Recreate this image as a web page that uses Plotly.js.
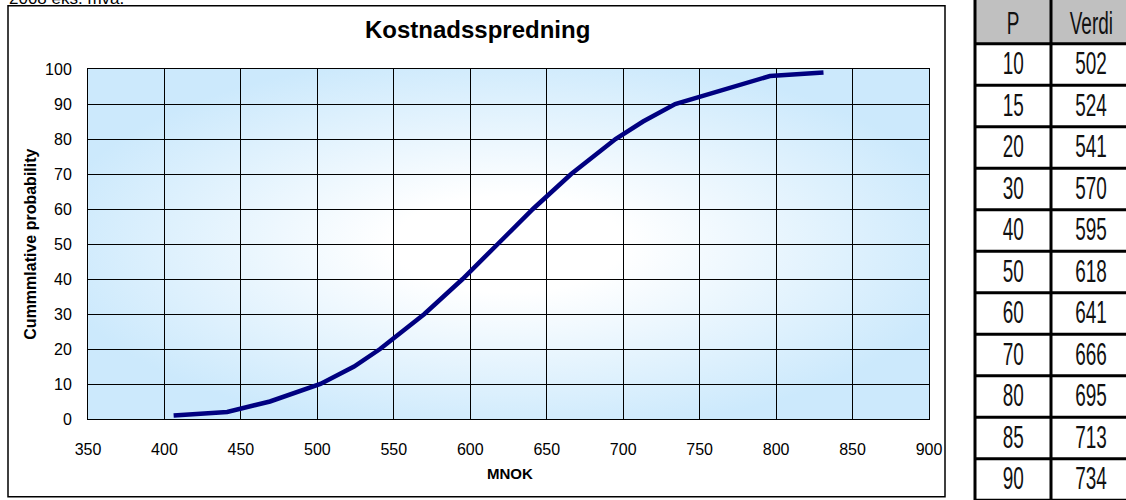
<!DOCTYPE html>
<html>
<head>
<meta charset="utf-8">
<script src="https://cdn.plot.ly/plotly-3.0.1.min.js"></script>
<style>html,body{margin:0;padding:0;background:#fff;}#chart{width:1126px;height:500px;}</style>
</head>
<body>
<div id="chart"></div>
<script>
// ---- data ----
const curveMNOK = [406, 441, 469, 502, 524, 541, 570, 595, 618, 641, 666, 695, 713, 734, 796, 831];
const curveProb = [1, 2, 5, 10, 15, 20, 30, 40, 50, 60, 70, 80, 85, 90, 98, 99];
const tableHeader = ['P', 'Verdi'];
const tableP = [10, 15, 20, 30, 40, 50, 60, 70, 80, 85, 90];
const tableVerdi = [502, 524, 541, 570, 595, 618, 641, 666, 695, 713, 734];
const xTickVals = [350, 400, 450, 500, 550, 600, 650, 700, 750, 800, 850, 900];
const yTickVals = [0, 10, 20, 30, 40, 50, 60, 70, 80, 90, 100];

// ---- layout geometry (pixels) ----
const W = 1126, H = 500;
const PL = 88, PR = 929, PT = 69.3, PB = 419.3;
const pw = PR - PL, ph = PB - PT;
const X = px => (px - PL) / pw;
const Y = py => (PB - py) / ph;

// gradient background
const cv = document.createElement('canvas');
cv.width = Math.round(pw); cv.height = Math.round(ph);
const g = cv.getContext('2d');
const blue = 'rgb(204,233,252)';
g.fillStyle = blue; g.fillRect(0, 0, cv.width, cv.height);
g.save();
g.translate(cv.width * 0.5, cv.height * 0.5);
g.scale(cv.width / cv.height, 1);
const rg = g.createRadialGradient(0, 0, 0, 0, 0, cv.height * 0.55);
rg.addColorStop(0, '#ffffff');
rg.addColorStop(0.25, '#ffffff');
rg.addColorStop(1, blue);
g.fillStyle = rg;
g.fillRect(-cv.height, -cv.height, cv.height * 2, cv.height * 2);
g.restore();
const bgURL = cv.toDataURL('image/png');

const shapes = [];
const annotations = [];
const FAM = 'Liberation Sans, Arial, sans-serif';

// chart outer border
shapes.push({type: 'rect', xref: 'paper', yref: 'paper', x0: X(8), x1: X(945), y0: Y(6), y1: Y(497),
  line: {color: '#000', width: 1.5}, fillcolor: 'rgba(0,0,0,0)', layer: 'below'});

// top-left clipped note
annotations.push({xref: 'paper', yref: 'paper', x: X(7), y: Y(-1), xanchor: 'left', yanchor: 'middle',
  text: '2008 eks. mva.', showarrow: false, font: {family: FAM, size: 17, color: '#000'}});

// title
annotations.push({xref: 'paper', yref: 'paper', x: X(477), y: Y(30), xanchor: 'center', yanchor: 'middle',
  text: '<b>Kostnadsspredning</b>', showarrow: false, font: {family: FAM, size: 24, color: '#000'}});

// axis titles
annotations.push({xref: 'paper', yref: 'paper', x: X(510), y: Y(474), xanchor: 'center', yanchor: 'middle',
  text: '<b>MNOK</b>', showarrow: false, font: {family: FAM, size: 15, color: '#000'}});
annotations.push({xref: 'paper', yref: 'paper', x: X(31), y: Y(245), xanchor: 'center', yanchor: 'middle', textangle: -90,
  text: '<b>Cummmlative probability</b>', showarrow: false, font: {family: FAM, size: 16, color: '#000'}});

// ---- table ----
const TL = 975, TM = 1051, TR = 1132, TT = -2, HB = 44, RH = 41.5;
shapes.push({type: 'rect', xref: 'paper', yref: 'paper', x0: X(TL), x1: X(TR), y0: Y(TT), y1: Y(HB),
  line: {width: 0}, fillcolor: '#c0c0c0'});
for (let k = 0; k <= tableP.length; k++) {
  const yy = HB + k * RH;
  shapes.push({type: 'line', xref: 'paper', yref: 'paper', x0: X(TL), x1: X(TR), y0: Y(yy), y1: Y(yy),
    line: {color: '#000', width: 3}});
}
[TL, TM].forEach(xx => shapes.push({type: 'line', xref: 'paper', yref: 'paper', x0: X(xx), x1: X(xx), y0: Y(TT), y1: Y(H + 5),
  line: {color: '#000', width: 3}}));

const tFont = {family: FAM, size: 24, color: '#111'};
const colC = [1013, 1091];
const tableIdx = [];
function addCell(text, xc, yc) {
  tableIdx.push(annotations.length);
  annotations.push({xref: 'paper', yref: 'paper', x: X(xc), y: Y(yc), xanchor: 'center', yanchor: 'middle',
    text: text, showarrow: false, font: tFont});
}
tableHeader.forEach((t, i) => addCell(t, colC[i], 23));
tableP.forEach((p, k) => {
  const yc = HB + k * RH + RH / 2 - 1.5;
  addCell(String(p), colC[0], yc);
  addCell(String(tableVerdi[k]), colC[1], yc);
});

const trace = {
  x: curveMNOK, y: curveProb, type: 'scatter', mode: 'lines',
  line: {color: '#000080', width: 4.5}, hoverinfo: 'skip'
};

const axisFont = {family: FAM, size: 16, color: '#000'};
const layout = {
  width: W, height: H,
  margin: {l: PL, r: W - PR, t: PT, b: H - PB, pad: 0},
  paper_bgcolor: '#ffffff', plot_bgcolor: 'rgba(0,0,0,0)',
  showlegend: false,
  xaxis: {range: [350, 900], tickvals: xTickVals, ticktext: xTickVals.map(String), showgrid: true, gridcolor: '#000', gridwidth: 1,
    zeroline: false, showline: true, linecolor: '#000', linewidth: 1, mirror: true, ticks: '', tickfont: axisFont,
    ticklabelstandoff: 16, fixedrange: true},
  yaxis: {range: [0, 100], tickvals: yTickVals, ticktext: yTickVals.map(String), showgrid: true, gridcolor: '#000', gridwidth: 1,
    zeroline: false, showline: true, linecolor: '#000', linewidth: 1, mirror: true, ticks: '', tickfont: axisFont,
    ticklabelstandoff: 12, fixedrange: true},
  images: [{source: bgURL, xref: 'paper', yref: 'paper', x: 0, y: 1, sizex: 1, sizey: 1, sizing: 'stretch',
    xanchor: 'left', yanchor: 'top', layer: 'below'}],
  shapes: shapes,
  annotations: annotations
};

// narrow, tall table lettering (like Arial Narrow in the reference)
function condenseTable() {
  tableIdx.forEach(i => {
    const t = document.querySelector('#chart .annotation[data-index="' + i + '"] text');
    if (!t) return;
    const b = t.getBBox();
    const cx = b.x + b.width / 2, cy = b.y + b.height / 2;
    t.setAttribute('transform', 'translate(' + cx + ',' + cy + ') scale(0.79,1.3) translate(' + (-cx) + ',' + (-cy) + ')');
  });
}

Plotly.newPlot('chart', [trace], layout, {displayModeBar: false, staticPlot: true}).then(condenseTable);
</script>
</body>
</html>
